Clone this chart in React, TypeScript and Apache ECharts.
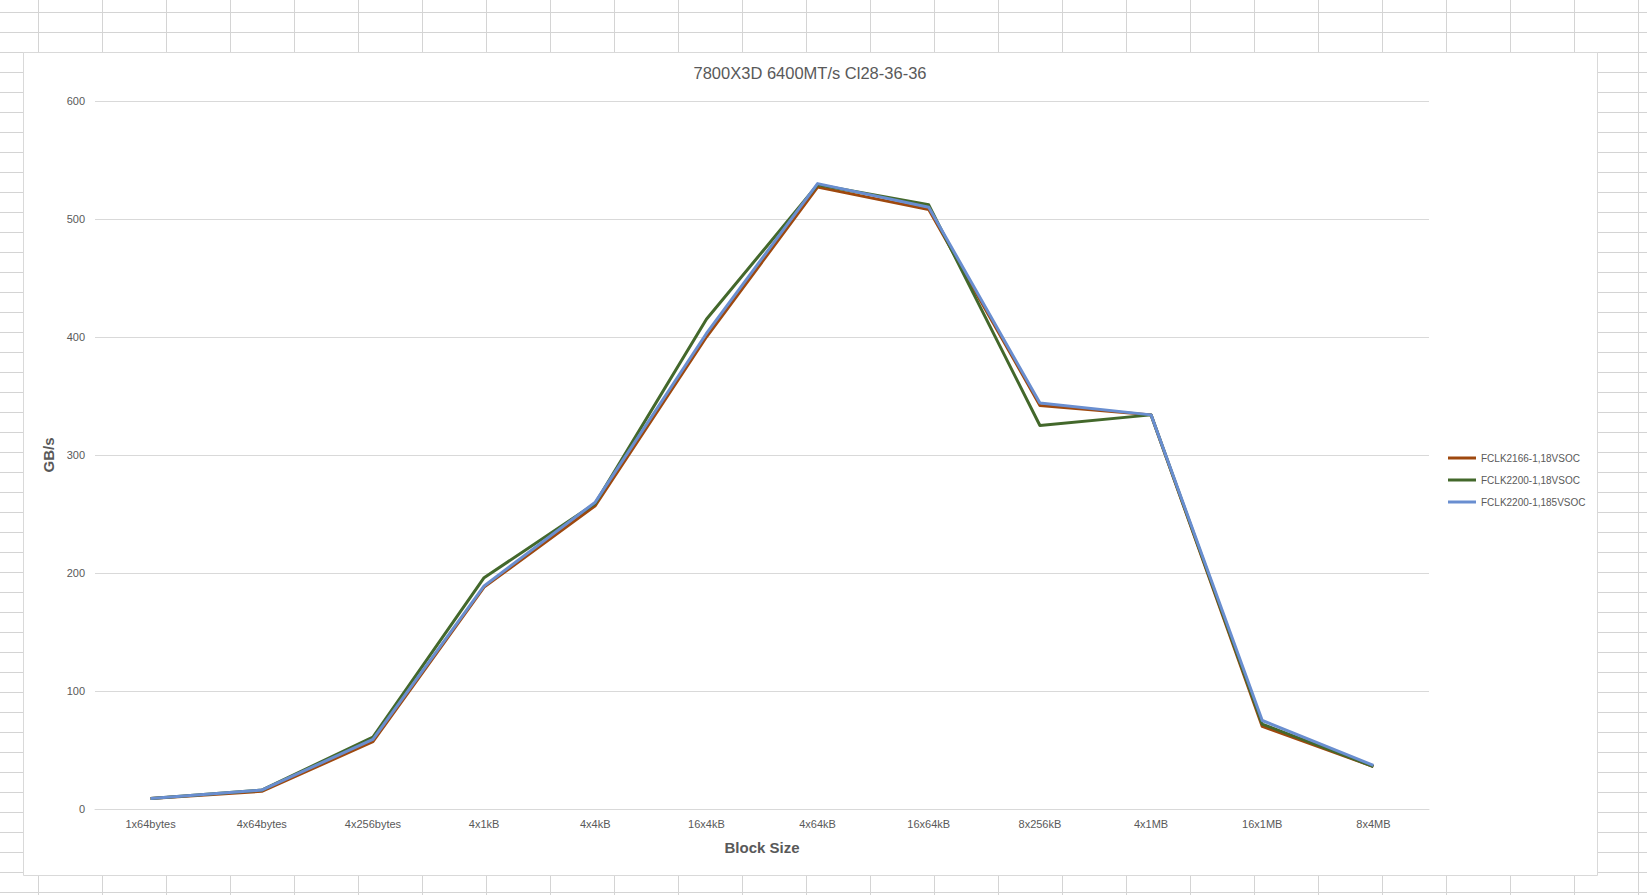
import React, { useEffect, useRef } from "react";
import * as echarts from "echarts";

const categories = ["1x64bytes", "4x64bytes", "4x256bytes", "4x1kB", "4x4kB", "16x4kB", "4x64kB", "16x64kB", "8x256kB", "4x1MB", "16x1MB", "8x4MB"];
const seriesNames = ["FCLK2166-1,18VSOC", "FCLK2200-1,18VSOC", "FCLK2200-1,185VSOC"];
const fclk2166_118 = [9, 15, 57, 188, 257, 400, 527, 508, 342, 334, 70, 36];
const fclk2200_118 = [9, 16, 61, 196, 259, 415, 529, 512, 325, 334, 72, 36];
const fclk2200_1185 = [9, 16, 59, 189, 260, 403, 530, 510, 344, 334, 75, 37];
const yTicks = [0, 100, 200, 300, 400, 500, 600];
const colors = ["#9E480E", "#43682B", "#698ED0"];

const FONT = "'Liberation Sans', Arial, sans-serif";
const TEXT = "#595959";

function sheetGrid() {
  const els: any[] = [];
  const W = 1647, H = 895;
  for (let k = 0; k <= 25; k++) {
    const x = 38.5 + 64 * k;
    els.push({ type: "line", z: -20, silent: true, shape: { x1: x, y1: 0, x2: x, y2: H }, style: { stroke: "#D4D4D4", lineWidth: 1 } });
  }
  for (let k = 0; k <= 44; k++) {
    const y = 12.5 + 20 * k;
    els.push({ type: "line", z: -20, silent: true, shape: { x1: 0, y1: y, x2: W, y2: y }, style: { stroke: "#D4D4D4", lineWidth: 1 } });
  }
  els.push({ type: "rect", z: -10, silent: true, shape: { x: 23.5, y: 52.5, width: 1574, height: 823 }, style: { fill: "#FFFFFF", stroke: "#D9D9D9", lineWidth: 1 } });
  return els;
}

export default function App() {
  const ref = useRef<HTMLDivElement>(null);
  useEffect(() => {
    document.body.style.margin = "0";
    const chart = echarts.init(ref.current!, null, { renderer: "svg" });
    const data = [fclk2166_118, fclk2200_118, fclk2200_1185];
    chart.setOption({
      animation: false,
      backgroundColor: "#FFFFFF",
      textStyle: { fontFamily: FONT },
      graphic: { elements: sheetGrid() },
      title: {
        text: "7800X3D 6400MT/s Cl28-36-36",
        left: 810,
        top: 64,
        padding: 0,
        textAlign: "center",
        textStyle: { fontFamily: FONT, fontSize: 16.5, fontWeight: "normal", color: TEXT },
      },
      legend: {
        orient: "vertical",
        left: 1448,
        top: 452,
        padding: 0,
        itemWidth: 28,
        itemHeight: 3,
        itemGap: 10,
        icon: "rect",
        data: seriesNames,
        textStyle: { fontFamily: FONT, fontSize: 10, color: TEXT, lineHeight: 12 },
      },
      grid: { left: 95, right: 218, top: 101, bottom: 86, containLabel: false },
      xAxis: {
        type: "category",
        data: categories,
        boundaryGap: true,
        name: "Block Size",
        nameLocation: "middle",
        nameGap: 31,
        nameTextStyle: { fontFamily: FONT, fontSize: 15, fontWeight: "bold", color: TEXT },
        axisLine: { lineStyle: { color: "#D9D9D9", width: 1 } },
        axisTick: { show: false },
        axisLabel: { color: TEXT, fontSize: 11, fontFamily: FONT, margin: 9, interval: 0 },
      },
      yAxis: {
        type: "value",
        min: yTicks[0],
        max: yTicks[yTicks.length - 1],
        interval: 100,
        name: "GB/s",
        nameLocation: "middle",
        nameGap: 30,
        nameTextStyle: { fontFamily: FONT, fontSize: 15, fontWeight: "bold", color: TEXT },
        axisLine: { show: false },
        axisTick: { show: false },
        axisLabel: { color: TEXT, fontSize: 11, fontFamily: FONT, margin: 10 },
        splitLine: { lineStyle: { color: "#D9D9D9", width: 1 } },
      },
      series: seriesNames.map((name, i) => ({
        name,
        type: "line",
        data: data[i],
        symbol: "none",
        color: colors[i],
        lineStyle: { color: colors[i], width: 3, join: "round" },
        z: 2 + i,
      })),
    });
    return () => chart.dispose();
  }, []);
  return <div ref={ref} style={{ position: "absolute", left: 0, top: 0, width: 1647, height: 895 }} />;
}
